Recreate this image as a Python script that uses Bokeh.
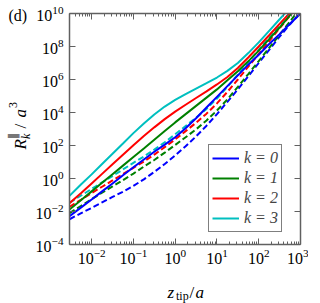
import math
from bokeh.plotting import figure
from bokeh.models import (Range1d, LogAxis, FixedTicker, Legend, LegendItem, Label)
from bokeh.embed import file_html
from bokeh.resources import INLINE

# ---- data (log10 of R_k/a^3 at each z_tip/a) ----
log10_z = [-2.53, -2.25, -2.0, -1.75, -1.5, -1.25, -1.0, -0.75, -0.5, -0.25, 0.0,
           0.25, 0.5, 0.75, 1.0, 1.25, 1.5, 1.75, 2.0, 2.25, 2.5, 2.75, 3.0]

logR_k0_solid = [-2.28, -1.75, -1.27, -0.78, -0.3, 0.2, 0.68, 1.15, 1.62, 2.05, 2.5,
                 3.05, 3.65, 4.3, 4.95, 5.6, 6.25, 6.9, 7.5, 8.15, 8.75, 9.38, 10.0]
logR_k1_solid = [-1.88, -1.3, -0.78, -0.26, 0.26, 0.78, 1.3, 1.82, 2.35, 2.88, 3.4,
                 3.9, 4.4, 4.9, 5.4, 5.95, 6.5, 7.1, 7.75, 8.45, 9.15, 9.9, 10.65]
logR_k2_solid = [-1.5, -0.88, -0.3, 0.28, 0.86, 1.44, 2.02, 2.58, 3.1, 3.6, 4.05,
                 4.47, 4.88, 5.28, 5.7, 6.15, 6.7, 7.33, 8.0, 8.68, 9.37, 10.05, 10.75]
logR_k3_solid = [-1.05, -0.35, 0.25, 0.88, 1.5, 2.12, 2.75, 3.33, 3.88, 4.36, 4.76,
                 5.12, 5.45, 5.78, 6.12, 6.52, 7.0, 7.6, 8.25, 8.95, 9.65, 10.35, 11.05]

logR_k0_dashed = [-2.47, -2.1, -1.78, -1.45, -1.12, -0.8, -0.45, -0.05, 0.4, 0.88, 1.4,
                  1.95, 2.55, 3.2, 3.9, 4.65, 5.4, 6.2, 7.0, 7.8, 8.6, 9.35, 10.05]
logR_k1_dashed = [-2.1, -1.65, -1.25, -0.86, -0.48, -0.1, 0.3, 0.72, 1.12, 1.57, 2.03,
                  2.5, 2.98, 3.52, 4.12, 4.8, 5.55, 6.33, 7.12, 7.92, 8.72, 9.52, 10.35]
logR_k2_dashed = [-1.72, -1.28, -0.88, -0.5, -0.12, 0.27, 0.65, 1.03, 1.45, 1.9, 2.37,
                  2.87, 3.38, 3.93, 4.55, 5.25, 6.0, 6.78, 7.55, 8.33, 9.1, 9.88, 10.65]
logR_k3_dashed = [-1.47, -1.03, -0.63, -0.24, 0.15, 0.55, 0.95, 1.33, 1.75, 2.2, 2.68,
                  3.18, 3.68, 4.22, 4.85, 5.55, 6.3, 7.05, 7.8, 8.55, 9.3, 10.05, 10.8]

k_labels = ["k = 0", "k = 1", "k = 2", "k = 3"]
colors = ["#0000ff", "#008000", "#ff0000", "#00bfbf"]

x_major = [1e-2, 1e-1, 1e0, 1e1, 1e2, 1e3]
y_major = [1e-4, 1e-2, 1e0, 1e2, 1e4, 1e6, 1e8, 1e10]

FONT = "'Liberation Serif', 'Times New Roman', serif"

z_tip = [10 ** v for v in log10_z]
solids = [logR_k0_solid, logR_k1_solid, logR_k2_solid, logR_k3_solid]
dashes = [logR_k0_dashed, logR_k1_dashed, logR_k2_dashed, logR_k3_dashed]

p = figure(x_axis_type="log", y_axis_type="log",
           x_range=Range1d(10 ** -2.53, 1e3), y_range=Range1d(1e-4, 1e10),
           frame_width=231, frame_height=231,
           min_border_left=69, min_border_right=8, min_border_top=13, min_border_bottom=56,
           output_backend="svg", toolbar_location=None)
p.background_fill_color = "white"
p.border_fill_color = "white"
p.outline_line_color = None
p.xgrid.visible = False
p.ygrid.visible = False

x_minor = [m * d for d in [1e-3, 1e-2, 1e-1, 1e0, 1e1, 1e2] for m in range(2, 10)]
xt = FixedTicker(ticks=x_major, minor_ticks=x_minor)
yt = FixedTicker(ticks=y_major, minor_ticks=[])

AX = "#606060"

def style_axis(ax, labels=True):
    ax.axis_line_color = AX
    ax.axis_line_width = 1.5
    ax.major_tick_line_color = AX
    ax.minor_tick_line_color = AX
    ax.major_tick_in = 6
    ax.major_tick_out = 0
    ax.minor_tick_in = 3
    ax.minor_tick_out = 0
    ax.major_tick_line_width = 1
    ax.minor_tick_line_width = 1
    if labels:
        ax.major_label_text_font = FONT
        ax.major_label_text_font_size = "16px"
        ax.major_label_text_color = "black"
    else:
        ax.major_label_text_font_size = "1px"
        ax.major_label_text_alpha = 0
        ax.major_label_standoff = 0

p.xaxis.ticker = xt
p.yaxis.ticker = yt
style_axis(p.xaxis[0])
style_axis(p.yaxis[0])
p.xaxis.major_label_standoff = 4
p.yaxis.major_label_standoff = 6

top = LogAxis(ticker=xt)
right = LogAxis(ticker=yt)
style_axis(top, False)
style_axis(right, False)
p.add_layout(top, "above")
p.add_layout(right, "right")

items = []
for i in range(4):
    p.line(z_tip, [10 ** v for v in dashes[i]], line_color=colors[i], line_width=2,
           line_dash="6 3")
for i in range(4):
    r = p.line(z_tip, [10 ** v for v in solids[i]], line_color=colors[i], line_width=2)
    items.append(LegendItem(label=k_labels[i], renderers=[r]))

legend = Legend(items=items, location=(139, 12), margin=0,
                label_text_font=FONT, label_text_font_size="16px",
                label_text_font_style="italic",
                label_height=20, glyph_height=20, glyph_width=27,
                spacing=0, padding=3, label_standoff=5,
                border_line_color="black", border_line_width=1,
                background_fill_color="white", background_fill_alpha=1)
p.add_layout(legend, "center")

# ---- transparent overlay figure (page-pixel coordinates) for texts outside the frame ----
W, H = 310, 303
q = figure(width=W, height=H, x_range=Range1d(0, W), y_range=Range1d(H, 0),
           min_border=0, min_border_left=0, min_border_right=0,
           min_border_top=0, min_border_bottom=0,
           output_backend="svg", toolbar_location=None,
           x_axis_location=None, y_axis_location=None, title=None)
q.background_fill_color = None
q.border_fill_color = None
q.outline_line_color = None
q.xgrid.visible = False
q.ygrid.visible = False
q.styles = {"position": "absolute", "left": "0px", "top": "0px"}

def lab(text, x, y, size, style="normal", angle=0.0, align="left"):
    q.add_layout(Label(x=x, y=y, text=text, text_font=FONT, text_font_size=f"{size}px",
                       text_font_style=style, angle=angle, text_align=align,
                       text_baseline="alphabetic", text_color="black"))

lab("(d)", 8, 15, 16)

# z_tip / a
lab("z", 167, 292, 17, "italic")
lab("tip", 175.5, 295.5, 12)
lab("/", 189, 292, 17)
lab("a", 195, 292, 17, "italic")

# R_k^|| / a^3, rotated
A = math.pi / 2
lab("R", 20, 149, 17, "italic", A)
lab("k", 25, 138.5, 12, "italic", A)
lab("\u2225", 12.5, 138.5, 12, "normal", A)
lab("/", 20, 128, 17, "normal", A)
lab("a", 20, 117, 17, "italic", A)
lab("3", 12.5, 107.5, 12, "normal", A)

open("out.html", "w").write(file_html([p, q], INLINE))
